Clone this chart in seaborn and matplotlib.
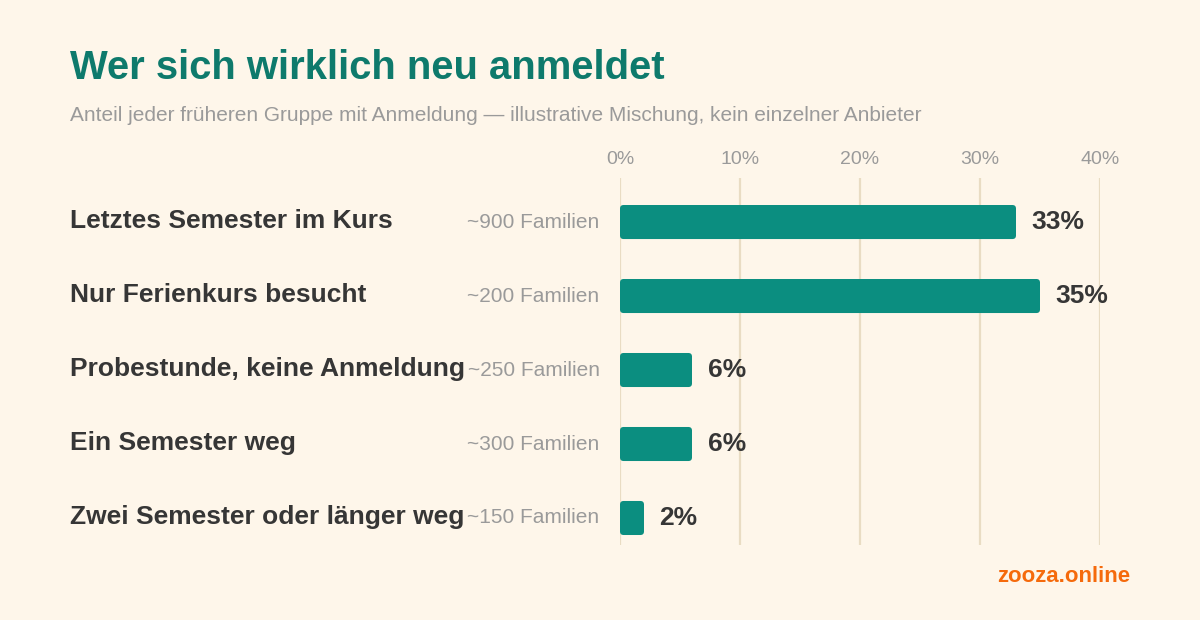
import matplotlib
matplotlib.use('Agg')
import matplotlib.pyplot as plt
from matplotlib.patches import FancyBboxPatch
import pandas as pd
import seaborn as sns

groups = ['Letztes Semester im Kurs', 'Nur Ferienkurs besucht',
          'Probestunde, keine Anmeldung', 'Ein Semester weg',
          'Zwei Semester oder länger weg']
shares = [33, 35, 6, 6, 2]
families = ['~900 Familien', '~200 Familien', '~250 Familien',
            '~300 Familien', '~150 Familien']
ticks = [0, 10, 20, 30, 40]

BG = '#fef6ea'
TEAL = '#0b8e80'
TITLE = '#0e7a6c'
DARK = '#363636'
GREY = '#9a9a9a'
GRID = '#e9dcc3'

sns.set_theme(style='white')
plt.rcParams['font.family'] = ['Liberation Sans', 'DejaVu Sans']

df = pd.DataFrame({'group': groups, 'share': shares})

fig = plt.figure(figsize=(12, 6.2), dpi=100, facecolor=BG)
ax = fig.add_axes([620 / 1200, 1 - 545 / 620, 480 / 1200, 367 / 620])
ax.set_facecolor(BG)

sns.barplot(data=df, x='share', y='group', color=TEAL, width=0.46,
            saturation=1, ax=ax)

# rounded bar corners
for p in list(ax.patches):
    x0, y0 = p.get_x(), p.get_y()
    w, h = p.get_width(), p.get_height()
    rb = FancyBboxPatch((x0, y0), w, h,
                        boxstyle='round,pad=0,rounding_size=0.3',
                        mutation_aspect=12 / 74, fc=TEAL, ec='none',
                        zorder=3)
    p.remove()
    ax.add_patch(rb)

ax.set_xlim(0, 40)
ax.set_ylim(4.365, -0.595)
ax.set_xticks(ticks)
ax.set_xticklabels([f'{t}%' for t in ticks])
ax.xaxis.tick_top()
ax.tick_params(axis='x', length=0, pad=7, labelsize=14, labelcolor=GREY)
ax.set_yticks([])
ax.set_xlabel('')
ax.set_ylabel('')
for s in ax.spines.values():
    s.set_visible(False)
for t in ticks:
    ax.axvline(t, color=GRID, lw=1.6, zorder=0)

for i, (g, v, f) in enumerate(zip(groups, shares, families)):
    ax.text(v + 1.3, i, f'{v}%', ha='left', va='center', fontsize=19,
            fontweight='bold', color=DARK)
    ax.text(-1.7, i, f, ha='right', va='center', fontsize=15, color=GREY)
    fig.text(70 / 1200, 1 - (221 + 74 * i) / 620, g, ha='left', va='center',
             fontsize=19, fontweight='bold', color=DARK)

fig.text(70 / 1200, 1 - 68 / 620, 'Wer sich wirklich neu anmeldet',
         ha='left', va='center', fontsize=28.8, fontweight='bold', color=TITLE)
fig.text(70 / 1200, 1 - 115 / 620,
         'Anteil jeder früheren Gruppe mit Anmeldung — illustrative Mischung, '
         'kein einzelner Anbieter',
         ha='left', va='center', fontsize=15, color=GREY)
fig.text(1130 / 1200, 1 - 577 / 620, 'zooza.online', ha='right',
         va='center', fontsize=16, fontweight='bold', color='#f56a0c')

fig.savefig('out.png', dpi=100, facecolor=BG)
